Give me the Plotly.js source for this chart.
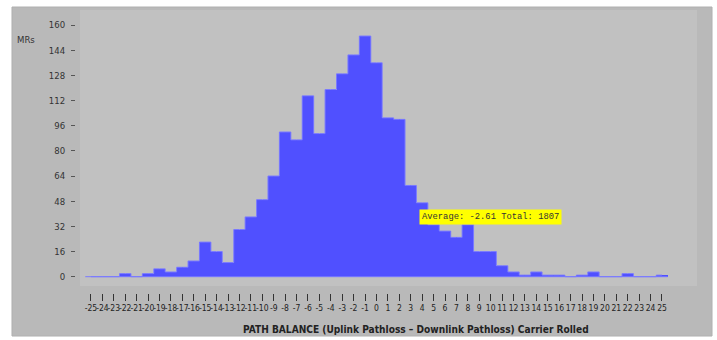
<!DOCTYPE html>
<html>
<head>
<meta charset="utf-8">
<script src="https://cdn.plot.ly/plotly-3.0.1.min.js"></script>
<style>html,body{margin:0;padding:0;background:#fff;}#chart{width:717px;height:340px;}</style>
</head>
<body>
<div id="chart"></div>
<script>
const categories = [-25,-24,-23,-22,-21,-20,-19,-18,-17,-16,-15,-14,-13,-12,-11,-10,-9,-8,-7,-6,-5,-4,-3,-2,-1,0,1,2,3,4,5,6,7,8,9,10,11,12,13,14,15,16,17,18,19,20,21,22,23,24,25];
const mrCounts = [0,0,0,2,0,2,5,3,6,10,22,16,9,30,38,49,64,92,87,115,91,119,129,141,153,136,101,100,58,47,33,29,25,33,16,16,7,3,1,3,1,1,0,1,3,0,0,2,0,0,1];
const yTicks = [0,16,32,48,64,80,96,112,128,144,160];
const averageText = "Average: -2.61 Total: 1807";
const averageX = 10;
const averageY = 38;

const sans = '"Liberation Sans Narrow", "DejaVu Sans Condensed", "Liberation Sans", Arial, sans-serif';

const bars = {
  type: 'bar',
  x: categories,
  y: mrCounts,
  width: 1,
  marker: {color: '#5050ff', line: {color: '#5050ff', width: 0}},
  hoverinfo: 'skip'
};

// step outline following the bar tops
const outline = {
  type: 'scatter',
  mode: 'lines',
  x: categories,
  y: mrCounts,
  line: {shape: 'hvh', color: '#7a7aff', width: 1},
  hoverinfo: 'skip'
};

const layout = {
  width: 717, height: 340,
  margin: {l: 76, r: 22, t: 10, b: 47},
  paper_bgcolor: '#ffffff',
  plot_bgcolor: 'rgba(0,0,0,0)',
  showlegend: false,
  bargap: 0,
  xaxis: {
    range: [-26.31, 27.89],
    tickvals: categories,
    ticktext: categories.map(String),
    ticks: 'outside', ticklen: 7, tickwidth: 1, tickcolor: '#333',
    tickfont: {family: sans, size: 8.5, color: '#222'},
    tickangle: 0,
    showgrid: false, zeroline: false, showline: false,
    fixedrange: true
  },
  yaxis: {
    range: [-10.36, 169.55],
    tickvals: yTicks,
    ticktext: yTicks.map(String),
    ticks: 'outside', ticklen: 4, tickwidth: 1, tickcolor: '#555',
    ticklabelstandoff: 4,
    tickfont: {family: sans, size: 9.5, color: '#333'},
    showgrid: false, zeroline: false, showline: false,
    fixedrange: true
  },
  shapes: [
    {type: 'rect', xref: 'paper', yref: 'paper', x0: -0.1034, x1: 1.0275, y0: -0.152, y1: 1.0106,
     fillcolor: '#b9b9b9', line: {color: '#b0b0b0', width: 1}, layer: 'below'},
    {type: 'rect', xref: 'paper', yref: 'paper', x0: 0.0065, x1: 1.0032, y0: 0.0247, y1: 1.0,
     fillcolor: '#c1c1c1', line: {width: 0}, layer: 'below'},
    {type: 'line', xref: 'x', yref: 'y', x0: categories[0] - 0.5, x1: categories[categories.length - 1] + 0.5, y0: 0, y1: 0,
     line: {color: '#7a7aff', width: 1}, layer: 'above'}
  ],
  annotations: [
    {text: 'MRs', xref: 'paper', yref: 'paper', x: -0.0808, y: 0.894, xanchor: 'center', yanchor: 'middle', showarrow: false,
     font: {family: sans, size: 9.5, color: '#333'}},
    {text: 'PATH BALANCE (Uplink Pathloss – Downlink Pathloss) Carrier Rolled', xref: 'paper', yref: 'paper',
     x: 0.549, y: -0.1307, xanchor: 'center', yanchor: 'middle', showarrow: false,
     font: {family: sans, size: 10.1, color: '#222', weight: 'bold'}},
    {text: averageText, xref: 'x', yref: 'y', x: averageX, y: averageY, showarrow: false,
     bgcolor: '#ffff00', borderpad: 2,
     font: {family: '"Liberation Mono", "DejaVu Sans Mono", monospace', size: 8.8, color: '#333'}}
  ]
};

Plotly.newPlot('chart', [bars, outline], layout, {staticPlot: true, displayModeBar: false});
</script>
</body>
</html>
